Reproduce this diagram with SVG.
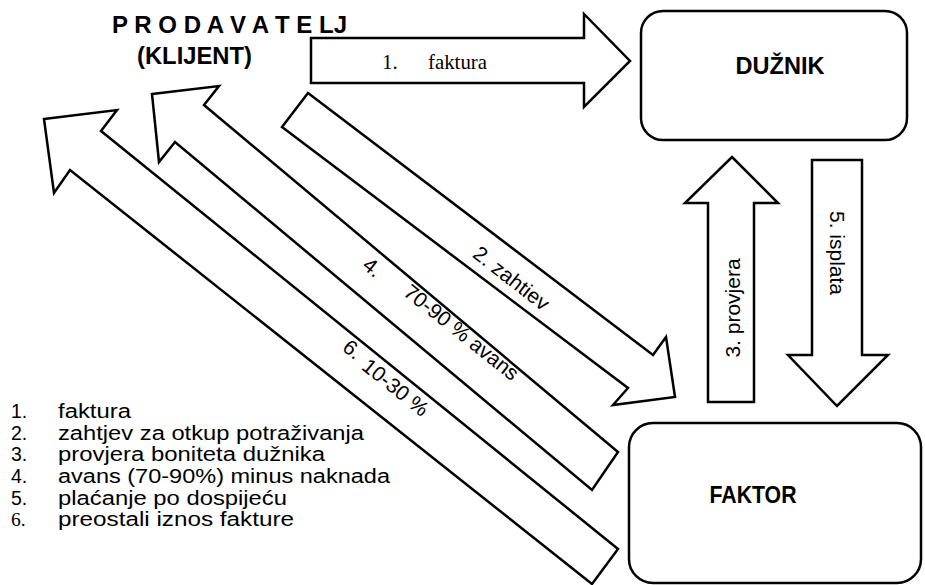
<svg xmlns="http://www.w3.org/2000/svg" width="925" height="585" viewBox="0 0 925 585">
<style>
.shape{fill:#fff;stroke:#000;stroke-width:2.5;stroke-linejoin:miter}
.box{fill:#fff;stroke:#000;stroke-width:2.5}
.sans{font-family:"Liberation Sans",Arial,sans-serif;fill:#000}
.serif{font-family:"Liberation Serif","Times New Roman",serif;fill:#000}
.bold{font-weight:bold}
.lbl{font-size:21px}
.leg{font-size:19.5px}
</style>
<rect width="925" height="585" fill="#fff"/>
<g id="prodavatelj">
<text class="sans bold" x="112" y="33" font-size="24.5" textLength="235" lengthAdjust="spacingAndGlyphs">P R O D A V A T E LJ</text>
<text class="sans bold" x="137" y="64" font-size="24.5" textLength="115" lengthAdjust="spacingAndGlyphs">(KLIJENT)</text>
</g>
<g id="duznik">
<rect class="box" x="641" y="11" width="266" height="129" rx="22"/>
<text class="sans bold" x="780" y="74" font-size="24" text-anchor="middle" textLength="89" lengthAdjust="spacingAndGlyphs">DUŽNIK</text>
</g>
<g id="faktor">
<rect class="box" x="629" y="423" width="292" height="160" rx="24"/>
<text class="sans bold" x="753" y="503" font-size="24" text-anchor="middle" textLength="87" lengthAdjust="spacingAndGlyphs">FAKTOR</text>
</g>
<g id="connectors">
<g id="a1">
<polygon class="shape" points="311,38 584,38 584,14 630,61 584,107 584,83 311,83"/>
<text class="serif" x="382" y="69" font-size="21">1.</text>
<text class="serif" x="428" y="69" font-size="21" textLength="59" lengthAdjust="spacingAndGlyphs">faktura</text>
</g>
<g id="a2">
<polygon class="shape" points="308,93 653,355 666,337 675,397 613,405 628,388 282,127"/>
<text class="sans lbl" text-anchor="middle" transform="translate(507,284) rotate(38)">2. zahtiev</text>
</g>
<g id="a3">
<polygon class="shape" points="732,157 778,203 754,203 754,402 708,402 708,203 685,203"/>
<text class="sans lbl" text-anchor="middle" transform="translate(740,308) rotate(-90)">3. provjera</text>
</g>
<g id="a4">
<polygon class="shape" points="152,94 219,86 204,105 618,452 592,490 175,142 159,162"/>
<text class="sans lbl" text-anchor="middle" transform="translate(368,273) rotate(38.5)">4.</text>
<text class="sans lbl" text-anchor="middle" transform="translate(457,338) rotate(38.5)">70-90 % avans</text>
</g>
<g id="a5">
<polygon class="shape" points="812,160 862,160 862,355 888,355 837,406 788,355 812,355"/>
<text class="sans lbl" text-anchor="middle" transform="translate(830,253) rotate(90)">5. isplata</text>
</g>
<g id="a6">
<polygon class="shape" points="44,119 117,110 101,131 618,549 592,584 70,170 54,193"/>
<text class="sans lbl" text-anchor="middle" transform="translate(348,355) rotate(39)">6.</text>
<text class="sans lbl" text-anchor="middle" transform="translate(391,393) rotate(39)">10-30 %</text>
</g>
</g>
<g id="legend">
<text class="sans leg" x="11" y="418">1.</text>
<text class="sans leg" x="58" y="418" textLength="73" lengthAdjust="spacingAndGlyphs">faktura</text>
<text class="sans leg" x="11" y="440">2.</text>
<text class="sans leg" x="58" y="440" textLength="306" lengthAdjust="spacingAndGlyphs">zahtjev za otkup potraživanja</text>
<text class="sans leg" x="11" y="461">3.</text>
<text class="sans leg" x="58" y="461" textLength="267" lengthAdjust="spacingAndGlyphs">provjera boniteta dužnika</text>
<text class="sans leg" x="11" y="483">4.</text>
<text class="sans leg" x="58" y="483" textLength="332" lengthAdjust="spacingAndGlyphs">avans (70-90%) minus naknada</text>
<text class="sans leg" x="11" y="505">5.</text>
<text class="sans leg" x="58" y="505" textLength="229" lengthAdjust="spacingAndGlyphs">plaćanje po dospijeću</text>
<text class="serif leg" x="11" y="526">6.</text>
<text class="sans leg" x="58" y="526" textLength="236" lengthAdjust="spacingAndGlyphs">preostali iznos fakture</text>
</g>
</svg>
